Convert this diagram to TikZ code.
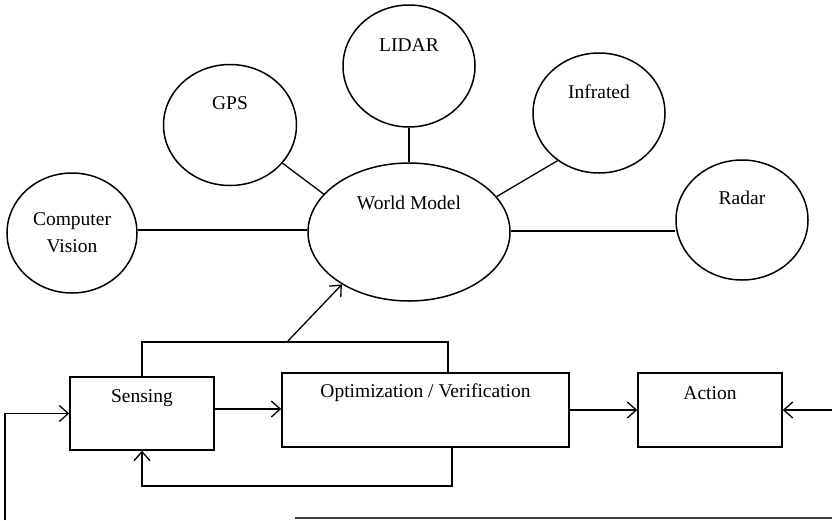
\documentclass[tikz,border=0pt]{standalone}
\usepackage{fontspec}
\setmainfont{Liberation Serif}
\usetikzlibrary{shapes.geometric,arrows.meta}
\begin{document}
\begin{tikzpicture}[x=1pt,y=-1pt,
  bubble/.style={ellipse,draw,line width=1.5pt,inner sep=0pt},
  blockbox/.style={rectangle,draw,line width=1.5pt,inner sep=0pt},
  lbl/.style={inner sep=0pt,font=\fontsize{19.5}{27}\selectfont,align=center},
  link/.style={line width=1.3pt},
  arr/.style={line width=1.3pt,-{Straight Barb[length=9pt,width=16pt,line width=1.3pt]}}]
\useasboundingbox (0,0) rectangle (832,520);

% sensor bubbles around the world model
\node[bubble,minimum width=202pt,minimum height=138pt] (wm) at (409,232) {};
\node[bubble,minimum width=130pt,minimum height=120pt] (cv) at (72,233) {};
\node[bubble,minimum width=133pt,minimum height=121pt] (gps) at (230,125) {};
\node[bubble,minimum width=132pt,minimum height=122pt] (lidar) at (409,66) {};
\node[bubble,minimum width=132pt,minimum height=120pt] (ir) at (599,113) {};
\node[bubble,minimum width=132pt,minimum height=120pt] (radar) at (742,220) {};

\node[lbl] (wmT) at (409,203) {World Model};
\node[lbl] (cvT) at (72,233) {Computer\\Vision};
\node[lbl] (gpsT) at (230,103) {GPS};
\node[lbl] (lidarT) at (409,45) {LIDAR};
\node[lbl] (irT) at (599,92) {Infrated};
\node[lbl] (radarT) at (742,198) {Radar};

\draw[link] (cv.east |- {(0,230)}) -- (wm.west |- {(0,230)});
\draw[link] (wm.east |- {(0,231)}) -- (radar.west |- {(0,231)});
\draw[link] (lidar) -- (wm);
\draw[link] (gps.-36) -- (wm.156);
\draw[link] (ir.229) -- (wm.22);

% processing chain
\node[blockbox,minimum width=144pt,minimum height=73pt] (sens) at (142,413.5) {};
\node[blockbox,minimum width=287pt,minimum height=74pt] (opt) at (425.5,410) {};
\node[blockbox,minimum width=144pt,minimum height=74pt] (act) at (710,410) {};

\node[lbl] (sensT) at (142,398) {Sensing};
\node[lbl] (optT) at (425.5,393) {Optimization / Verification};
\node[lbl] (actT) at (710,393) {Action};

\draw[arr] (sens.east |- {(0,409)}) -- (opt.west |- {(0,409)});
\draw[arr] (opt.east |- {(0,410)}) -- (act.west |- {(0,410)});

% connectors entering from the edges
\coordinate (fbl) at (5,520);
\coordinate (fbr) at (832,410);
\draw[arr] (fbl) |- (sens.west);
\draw[arr] (fbr) -- (act.east);

% upper bracket feeding the world model
\coordinate (tap) at (287,342);
\draw[link] (sens.north) |- (tap) -| (opt.north -| {(448,0)});
\draw[arr] (tap) -- (wm.218);

% lower feedback loop
\draw[arr] (opt.south -| {(452,0)}) |- (sens.south |- {(0,486)}) -- (sens.south);

% bottom return line
\coordinate (rl1) at (295,518);
\coordinate (rl2) at (832,518);
\draw[line width=1.5pt,black!75] (rl1) -- (rl2);
\end{tikzpicture}
\end{document}
